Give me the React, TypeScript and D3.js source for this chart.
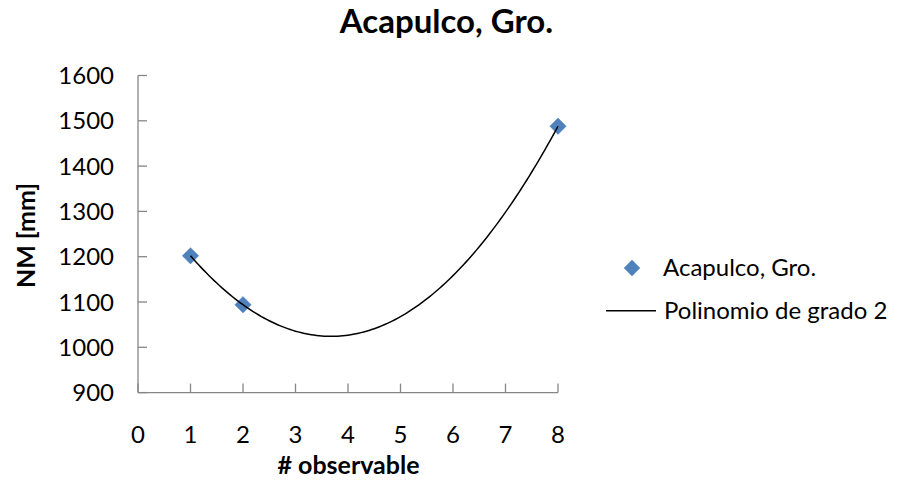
import React from 'react';
import * as d3 from 'd3';

const observable = [1, 2, 8];
const nivelMedio = [1202, 1094, 1488];

const xTicks = [0, 1, 2, 3, 4, 5, 6, 7, 8];
const yTicks = [900, 1000, 1100, 1200, 1300, 1400, 1500, 1600];

const seriesName = 'Acapulco, Gro.';
const trendName = 'Polinomio de grado 2';

const FONT = 'Lato, "Open Sans", sans-serif';

// least squares fit of degree 2 (like the spreadsheet trendline)
function fitQuadratic(xs: number[], ys: number[]) {
  const s = (f: (x: number, y: number) => number) => d3.sum(xs, (x, i) => f(x, ys[i]));
  const n = xs.length;
  const sx = s(x => x), sx2 = s(x => x * x), sx3 = s(x => x ** 3), sx4 = s(x => x ** 4);
  const sy = s((_, y) => y), sxy = s((x, y) => x * y), sx2y = s((x, y) => x * x * y);
  const M = [
    [sx4, sx3, sx2, sx2y],
    [sx3, sx2, sx, sxy],
    [sx2, sx, n, sy],
  ];
  for (let i = 0; i < 3; i++) {
    for (let k = i + 1; k < 3; k++) {
      const f = M[k][i] / M[i][i];
      for (let j = i; j < 4; j++) M[k][j] -= f * M[i][j];
    }
  }
  const c = [0, 0, 0];
  for (let i = 2; i >= 0; i--) {
    let v = M[i][3];
    for (let j = i + 1; j < 3; j++) v -= M[i][j] * c[j];
    c[i] = v / M[i][i];
  }
  return (x: number) => c[0] * x * x + c[1] * x + c[2];
}

export default function App() {
  const width = 897;
  const height = 502;
  const plot = { left: 138, right: 558, top: 75.5, bottom: 392.6 };

  const x = d3.scaleLinear().domain([0, 8]).range([plot.left, plot.right]);
  const y = d3.scaleLinear().domain([900, 1600]).range([plot.bottom, plot.top]);

  const poly = fitQuadratic(observable, nivelMedio);
  const xs = d3.range(0, 141).map(i => 1 + (i / 140) * 7);
  const line = d3.line<number>().x(d => x(d)).y(d => y(poly(d)));

  const diamond = d3.symbol().type(d3.symbolDiamond2).size(170)();
  const axisColor = '#868686';

  return (
    <svg width={width} height={height} style={{ position: 'absolute', left: 0, top: 0 }} fontFamily={FONT}>
      <rect width={width} height={height} fill="#fff" />
      <text x={446.5} y={33} textAnchor="middle" fontSize={33} fontWeight="bold">{seriesName}</text>

      {/* axes */}
      <line x1={plot.left} x2={plot.left} y1={plot.top} y2={plot.bottom} stroke={axisColor} strokeWidth={1.3} />
      <line x1={plot.left} x2={plot.right} y1={plot.bottom} y2={plot.bottom} stroke={axisColor} strokeWidth={1.3} />
      {yTicks.map(t => (
        <g key={t}>
          <line x1={plot.left} x2={plot.left + 9} y1={y(t)} y2={y(t)} stroke={axisColor} strokeWidth={1.3} />
          <text x={114} y={y(t) + 8.5} textAnchor="end" fontSize={24}>{t}</text>
        </g>
      ))}
      {xTicks.map(t => (
        <g key={t}>
          <line x1={x(t)} x2={x(t)} y1={plot.bottom} y2={plot.bottom - 9} stroke={axisColor} strokeWidth={1.3} />
          <text x={x(t)} y={443} textAnchor="middle" fontSize={24}>{t}</text>
        </g>
      ))}

      <text x={348.5} y={474} textAnchor="middle" fontSize={25} fontWeight="bold"># observable</text>
      <text transform={`translate(35,235.5) rotate(-90)`} textAnchor="middle" fontSize={25} fontWeight="bold">NM [mm]</text>

      {/* data points */}
      {observable.map((d, i) => (
        <path key={i} d={diamond!} transform={`translate(${x(d)},${y(nivelMedio[i])})`} fill="#4F81BD" stroke="#4A7EBB" strokeWidth={0.5} />
      ))}
      {/* trendline */}
      <path d={line(xs)!} fill="none" stroke="#000" strokeWidth={1.5} />

      {/* legend */}
      <path d={diamond!} transform="translate(632,268)" fill="#4F81BD" />
      <text x={663} y={276} fontSize={24}>{seriesName}</text>
      <line x1={606} x2={656} y1={310.7} y2={310.7} stroke="#000" strokeWidth={1.5} />
      <text x={664} y={319} fontSize={24}>{trendName}</text>
    </svg>
  );
}
